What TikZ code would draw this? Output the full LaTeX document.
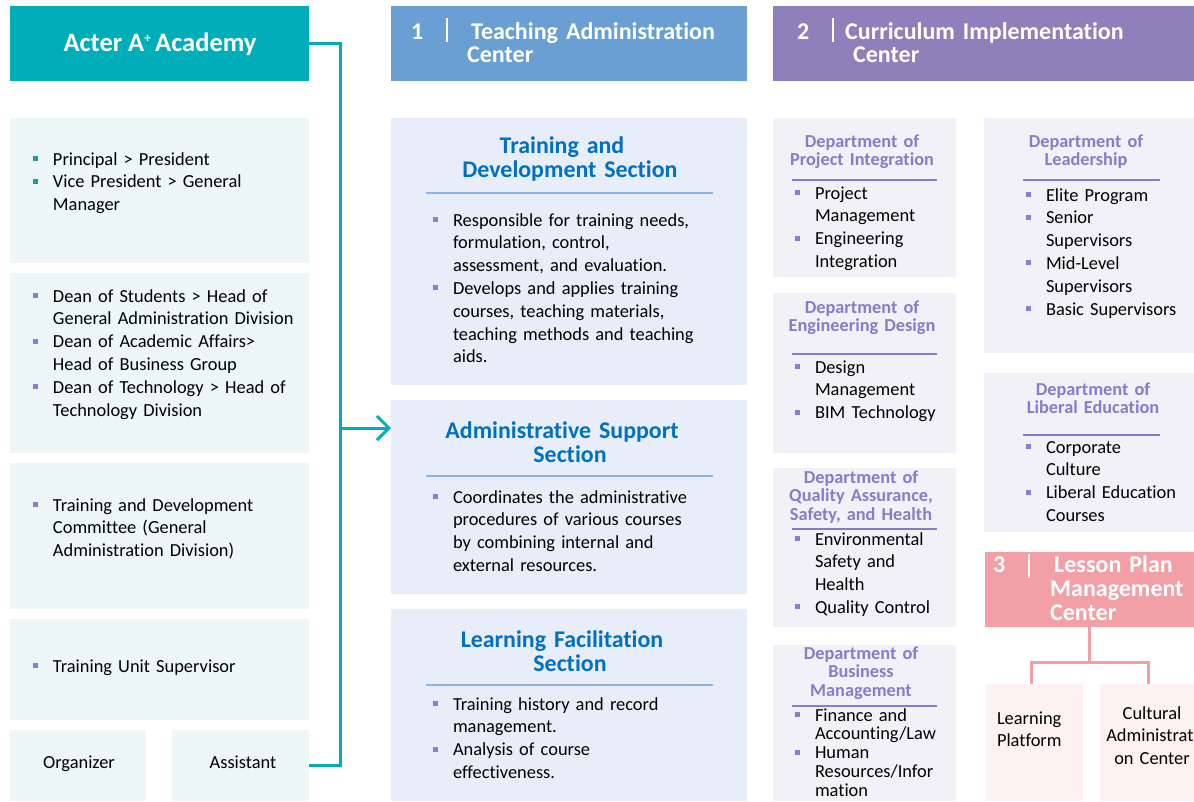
\documentclass[tikz,border=0pt]{standalone}
\usepackage{fontspec}
\setmainfont{Carlito}[Ligatures=NoCommon]
\usetikzlibrary{arrows.meta}
\definecolor{tealc}{RGB}{0,174,185}
\definecolor{tealbg}{RGB}{237,247,248}
\definecolor{tealbul}{RGB}{26,158,158}
\definecolor{bluehd}{RGB}{106,159,212}
\definecolor{bluebg}{RGB}{232,238,249}
\definecolor{bluetit}{RGB}{0,112,192}
\definecolor{blueline}{RGB}{141,179,226}
\definecolor{purphd}{RGB}{142,128,186}
\definecolor{purpbg}{RGB}{242,241,248}
\definecolor{purptit}{RGB}{139,122,204}
\definecolor{purpbul}{RGB}{142,124,208}
\definecolor{pinkhd}{RGB}{242,160,165}
\definecolor{pinkbg}{RGB}{253,241,241}
\definecolor{pinkln}{RGB}{240,160,165}
\newcommand\bodyf{\fontsize{18.4}{22.8}\selectfont}
\newcommand\bu[1][purpbul]{\makebox[20pt][l]{\textcolor{#1}{\rule[4pt]{5pt}{5pt}}}}
\newcommand\ind{\hspace*{20pt}}
\tikzset{
  box/.style={rectangle, draw=none, inner sep=0pt, outer sep=0pt, anchor=north west},
  txt/.style={inner sep=0pt, outer sep=0pt, anchor=base west, text width=#1, align=left, font=\bodyf},
  ctxt/.style={inner sep=0pt, outer sep=0pt, anchor=base, text width=#1, align=center, font=\bodyf},
  hdtxt/.style={inner sep=0pt, anchor=base west, text width=#1, align=left, text=white, font=\fontsize{24}{23.5}\selectfont\bfseries},
  sectit/.style={inner sep=0pt, anchor=base, text width=340pt, align=center, text=bluetit, font=\fontsize{23.9}{24.5}\selectfont\bfseries},
  deptit/.style={inner sep=0pt, anchor=base, text width=200pt, align=center, text=purptit, font=\fontsize{18.3}{18.7}\selectfont\bfseries},
  bar/.style={white, line width=2pt},
  uline/.style={line width=2pt},
  tealline/.style={tealc, line width=3pt},
  pinkline/.style={pinkln, line width=3pt},
}
\begin{document}
\begin{tikzpicture}[x=1pt,y=-1pt]
\useasboundingbox (0,0) rectangle (1194,801);
\fill[white] (0,0) rectangle (1194,801);

% ---------- left column ----------
\node[box, fill=tealc, minimum width=299pt, minimum height=75pt] (acter) at (10,6) {};
\node[inner sep=0pt, anchor=base, text=white, font=\fontsize{26.5}{28}\selectfont\bfseries] (actert) at (160,51) {Acter A\raisebox{9pt}{\fontsize{13}{13}\selectfont+}\,Academy};

\node[box, fill=tealbg, minimum width=299pt, minimum height=145pt] (l1) at (10,118) {};
\node[txt=280pt] (l1t) at (33,165) {\bu[tealbul]Principal > President\\ \bu[tealbul]Vice President > General\\ \ind Manager};

\node[box, fill=tealbg, minimum width=299pt, minimum height=180pt] (l2) at (10,273) {};
\node[txt=290pt] (l2t) at (33,302) {\bu Dean of Students > Head of\\ \ind General Administration Division\\ \bu Dean of Academic Affairs>\\ \ind Head of Business Group\\ \bu Dean of Technology > Head of\\ \ind Technology Division};

\node[box, fill=tealbg, minimum width=299pt, minimum height=146pt] (l3) at (10,463) {};
\node[txt=280pt] (l3t) at (33,511) {\bu Training and Development\\ \ind Committee (General\\ \ind Administration Division)};

\node[box, fill=tealbg, minimum width=299pt, minimum height=101pt] (l4) at (10,619) {};
\node[txt=280pt] (l4t) at (33,672) {\bu Training Unit Supervisor};

\node[box, fill=tealbg, minimum width=136pt, minimum height=71pt] (org) at (10,730) {};
\node[inner sep=0pt, anchor=base, font=\bodyf] (orgt) at (79,768) {Organizer};
\node[box, fill=tealbg, minimum width=137pt, minimum height=71pt] (asst) at (172,730) {};
\node[inner sep=0pt, anchor=base, font=\bodyf] (asstt) at (243,768) {Assistant};

% ---------- column 1 ----------
\node[box, fill=bluehd, minimum width=356pt, minimum height=75pt] (hd1) at (391,6) {};
\node[hdtxt=40pt] (hd1n) at (411,39) {1};
\draw[bar] (447,18) -- (447,42);
\node[hdtxt=300pt] (hd1t) at (467,39) {\hspace*{4pt}Teaching Administration\\Center};

\node[box, fill=bluebg, minimum width=356pt, minimum height=267pt] (secA) at (391,118) {};
\node[sectit] (secAt) at (570,153) {Training and\makebox[16pt]{}\\Development Section};
\draw[uline, blueline] (426,193) -- (713,193);
\node[txt=310pt] (secAl) at (433,226) {\bu Responsible for training needs,\\ \ind formulation, control,\\ \ind assessment, and evaluation.\\ \bu Develops and applies training\\ \ind courses, teaching materials,\\ \ind teaching methods and teaching\\ \ind aids.};

\node[box, fill=bluebg, minimum width=356pt, minimum height=194pt] (secB) at (391,400) {};
\node[sectit] (secBt) at (570,438) {Administrative Support\makebox[16pt]{}\\Section};
\draw[uline, blueline] (426,476) -- (713,476);
\node[txt=310pt] (secBl) at (433,503) {\bu Coordinates the administrative\\ \ind procedures of various courses\\ \ind by combining internal and\\ \ind external resources.};

\node[box, fill=bluebg, minimum width=356pt, minimum height=192pt] (secC) at (391,609) {};
\node[sectit] (secCt) at (570,647) {Learning Facilitation\makebox[16pt]{}\\Section};
\draw[uline, blueline] (426,685) -- (713,685);
\node[txt=310pt] (secCl) at (433,710) {\bu Training history and record\\ \ind management.\\ \bu Analysis of course\\ \ind effectiveness.};

% ---------- column 2 ----------
\node[box, fill=purphd, minimum width=421pt, minimum height=75pt] (hd2) at (773,6) {};
\node[hdtxt=40pt] (hd2n) at (797,39) {2};
\draw[bar] (833,18) -- (833,42);
\node[hdtxt=340pt] (hd2t) at (845,39) {Curriculum Implementation\\\hspace*{8pt}Center};

\node[box, fill=purpbg, minimum width=183pt, minimum height=159pt] (dpi) at (773,118) {};
\node[deptit] (dpit) at (862,147) {Department of\\Project Integration};
\draw[uline, purptit] (792,180) -- (937,180);
\node[txt=190pt] (dpil) at (795,199) {\bu Project\\ \ind Management\\ \bu Engineering\\ \ind Integration};

\node[box, fill=purpbg, minimum width=183pt, minimum height=160pt] (ded) at (773,293) {};
\node[deptit] (dedt) at (862,313) {Department of\\Engineering Design};
\draw[uline, purptit] (792,354) -- (937,354);
\node[txt=190pt] (dedl) at (795,373) {\bu Design\\ \ind Management\\ \bu BIM Technology};

\node[box, fill=purpbg, minimum width=183pt, minimum height=159pt] (dqa) at (773,468) {};
\node[deptit] (dqat) at (861,483) {Department of\\Quality Assurance,\\Safety, and Health};
\draw[uline, purptit] (792,529) -- (937,529);
\node[txt=190pt] (dqal) at (795,545) {\bu Environmental\\ \ind Safety and\\ \ind Health\\ \bu Quality Control};

\node[box, fill=purpbg, minimum width=183pt, minimum height=156pt] (dbm) at (773,645) {};
\node[deptit] (dbmt) at (861,659) {Department of\\Business\\Management};
\draw[uline, purptit] (792,706) -- (937,706);
\node[txt=190pt, font=\fontsize{18.4}{18.8}\selectfont] (dbml) at (795,721) {\bu Finance and\\ \ind Accounting/Law\\ \bu Human\\ \ind Resources/Infor\\ \ind mation};

\node[box, fill=purpbg, minimum width=210pt, minimum height=235pt] (dl) at (984,118) {};
\node[deptit] (dlt) at (1086,147) {Department of\\Leadership};
\draw[uline, purptit] (1023,180) -- (1160,180);
\node[txt=190pt] (dll) at (1026,201) {\bu Elite Program\\ \bu Senior\\ \ind Supervisors\\ \bu Mid-Level\\ \ind Supervisors\\ \bu Basic Supervisors};

\node[box, fill=purpbg, minimum width=210pt, minimum height=159pt] (dle) at (984,373) {};
\node[deptit] (dlet) at (1093,395) {Department of\\Liberal Education};
\draw[uline, purptit] (1023,435) -- (1160,435);
\node[txt=190pt] (dlel) at (1026,453) {\bu Corporate\\ \ind Culture\\ \bu Liberal Education\\ \ind Courses};

% ---------- lesson plan ----------
\node[box, fill=pinkhd, minimum width=209pt, minimum height=75pt] (lp) at (985,552) {};
\node[hdtxt=30pt] (lpn) at (993,572) {3};
\draw[bar] (1029,554) -- (1029,578);
\node[hdtxt=160pt, font=\fontsize{24}{24}\selectfont\bfseries] (lpt) at (1050,572) {\hspace*{4pt}Lesson Plan\\Management\\Center};

\node[box, fill=pinkbg, minimum width=97pt, minimum height=117pt] (learn) at (986,684) {};
\node[txt=90pt] (learnt) at (997,724) {Learning\\Platform};
\node[box, fill=pinkbg, minimum width=104pt, minimum height=117pt] (cult) at (1100,684) {};
\node[ctxt=120pt] (cultt) at (1152,719) {Cultural\\Administrati\\on Center};

% ---------- connectors ----------
\draw[tealline] (acter.east) -- ++(31,0) coordinate (tc) -- (tc |- asst.east) -- (asst.east);
\coordinate (junc) at (340,428);
\draw[tealline, -{Straight Barb[length=12pt,width=24pt]}] (junc) -- (junc -| secB.west);

\draw[pinkline] (lp.south) -- ++(0,35) coordinate (split);
\draw[pinkline] (split) -| ([xshift=-3pt]learn.north);
\draw[pinkline] (split) -| ([xshift=-4pt]cult.north);
\end{tikzpicture}
\end{document}
